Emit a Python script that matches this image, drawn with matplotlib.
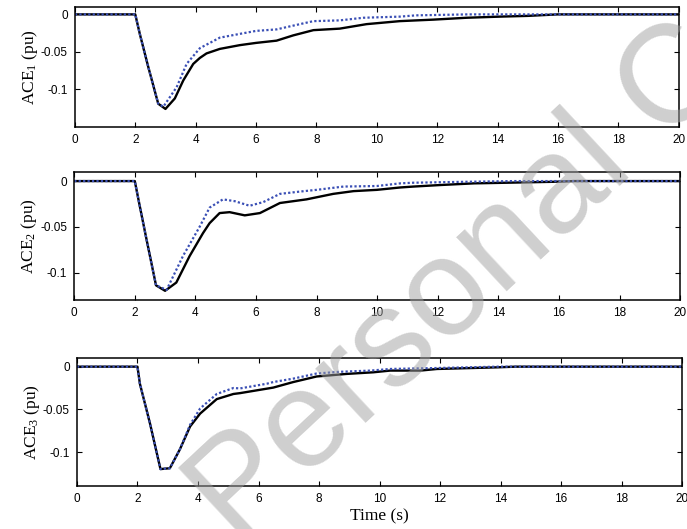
import matplotlib
matplotlib.use("Agg")
import matplotlib.pyplot as plt

plt.rcParams['font.family'] = ['Liberation Sans', 'DejaVu Sans']
plt.rcParams['mathtext.fontset'] = 'custom'
plt.rcParams['mathtext.rm'] = 'Liberation Serif'
plt.rcParams['mathtext.it'] = 'Liberation Serif:italic'

# ACE1
t1_a = [0, 2.0, 2.15, 2.43, 2.76, 3.0, 3.31, 3.59, 3.92, 4.14, 4.36, 4.8, 5.46, 6.0, 6.68, 7.23, 7.9,
        8.77, 9.66, 10.76, 11.87, 12.97, 14.07, 15.0, 16.0, 20]
ace1_a = [0, 0, -0.026, -0.070, -0.119, -0.126, -0.112, -0.088, -0.066, -0.058, -0.052, -0.046, -0.041,
          -0.038, -0.035, -0.028, -0.021, -0.019, -0.013, -0.009, -0.007, -0.0045, -0.003, -0.002, 0, 0]
t1_b = [0, 2.0, 2.15, 2.43, 2.76, 2.93, 3.37, 3.7, 4.14, 4.8, 5.46, 6.0, 6.68, 7.23, 7.9, 8.77, 9.55,
        10.76, 11.3, 13.0, 20]
ace1_b = [0, 0, -0.026, -0.070, -0.119, -0.123, -0.097, -0.066, -0.045, -0.031, -0.026, -0.022, -0.020,
          -0.015, -0.009, -0.008, -0.0045, -0.003, -0.0013, 0, 0]

# ACE2
t2_a = [0, 2.0, 2.15, 2.37, 2.7, 3.0, 3.37, 3.81, 4.25, 4.47, 4.8, 5.13, 5.63, 6.13, 6.79, 7.67, 8.55,
        9.22, 9.99, 10.76, 11.2, 12.1, 13.2, 14.3, 15.8, 16.5, 20]
ace2_a = [0, 0, -0.025, -0.061, -0.114, -0.120, -0.111, -0.082, -0.057, -0.046, -0.035, -0.034, -0.0375,
          -0.035, -0.024, -0.020, -0.014, -0.011, -0.0096, -0.007, -0.006, -0.0043, -0.0025, -0.0018,
          -0.0008, 0, 0]
t2_b = [0, 2.0, 2.15, 2.37, 2.7, 3.05, 3.59, 4.14, 4.47, 4.91, 5.3, 5.79, 6.24, 6.79, 7.45, 8.0, 8.89,
        9.99, 10.76, 11.2, 12.9, 14.5, 20]
ace2_b = [0, 0, -0.025, -0.061, -0.114, -0.119, -0.082, -0.050, -0.029, -0.020, -0.022, -0.027, -0.023,
          -0.014, -0.0115, -0.0096, -0.006, -0.0054, -0.0025, -0.0018, -0.0008, 0, 0]

# ACE3
t3_a = [0, 2.0, 2.08, 2.41, 2.76, 3.07, 3.4, 3.74, 4.07, 4.62, 5.17, 5.39, 6.49, 7.15, 7.92, 8.91, 9.79,
        10.35, 11.34, 11.9, 13.87, 14.5, 20]
ace3_a = [0, 0, -0.020, -0.066, -0.120, -0.119, -0.097, -0.070, -0.055, -0.038, -0.032, -0.031, -0.0245,
          -0.018, -0.0115, -0.0085, -0.0066, -0.0046, -0.0046, -0.0027, -0.0008, 0, 0]
t3_b = [0, 2.0, 2.08, 2.41, 2.76, 3.07, 3.4, 3.74, 4.07, 4.62, 5.17, 5.39, 6.27, 6.49, 7.15, 7.92, 8.69,
        9.7, 10.35, 12.0, 13.9, 20]
ace3_b = [0, 0, -0.020, -0.066, -0.120, -0.119, -0.097, -0.068, -0.049, -0.032, -0.025, -0.0255, -0.020,
          -0.018, -0.014, -0.008, -0.006, -0.0046, -0.0027, -0.0015, 0, 0]

series = [(t1_a, ace1_a, t1_b, ace1_b), (t2_a, ace2_a, t2_b, ace2_b), (t3_a, ace3_a, t3_b, ace3_b)]
ylabels = [r'ACE$_1$ (pu)', r'ACE$_2$ (pu)', r'ACE$_3$ (pu)']
ylims = [(-0.15, 0.01), (-0.13, 0.01), (-0.14, 0.01)]
boxes = [[0.109, 0.760, 0.879, 0.227], [0.108, 0.433, 0.882, 0.242], [0.112, 0.081, 0.881, 0.242]]

fig = plt.figure(figsize=(6.87, 5.29), dpi=100)
serif = {'family': 'Liberation Serif', 'size': 12.5}

for i in range(3):
    ax = fig.add_axes(boxes[i])
    ta, ya, tb, yb = series[i]
    ax.plot(ta, ya, color='black', lw=1.7)
    ax.plot(tb, yb, color='#3a4fb5', lw=1.6, linestyle=(0, (1, 1)))
    ax.set_xlim(0, 20)
    ax.set_ylim(*ylims[i])
    ax.set_xticks(range(0, 21, 2))
    ax.set_yticks([-0.1, -0.05, 0])
    ax.set_yticklabels(['-0.1', '-0.05', '0'])
    ax.tick_params(direction='in', top=True, right=True, length=3.5, width=0.8,
                   labelsize=8.5, pad=5)
    for s in ax.spines.values():
        s.set_linewidth(1.1)
    ax.set_ylabel(ylabels[i], fontdict=serif, labelpad=1)
    if i == 2:
        ax.set_xlabel('Time (s)', fontdict=serif, labelpad=2.5)

# watermark
fig.text(0.342, -0.030, 'Personal Copy', fontsize=100, rotation=43, rotation_mode='anchor',
         ha='left', va='baseline', color='#a0a0a0', alpha=0.5, zorder=10)

fig.savefig('out.png', dpi=100)
